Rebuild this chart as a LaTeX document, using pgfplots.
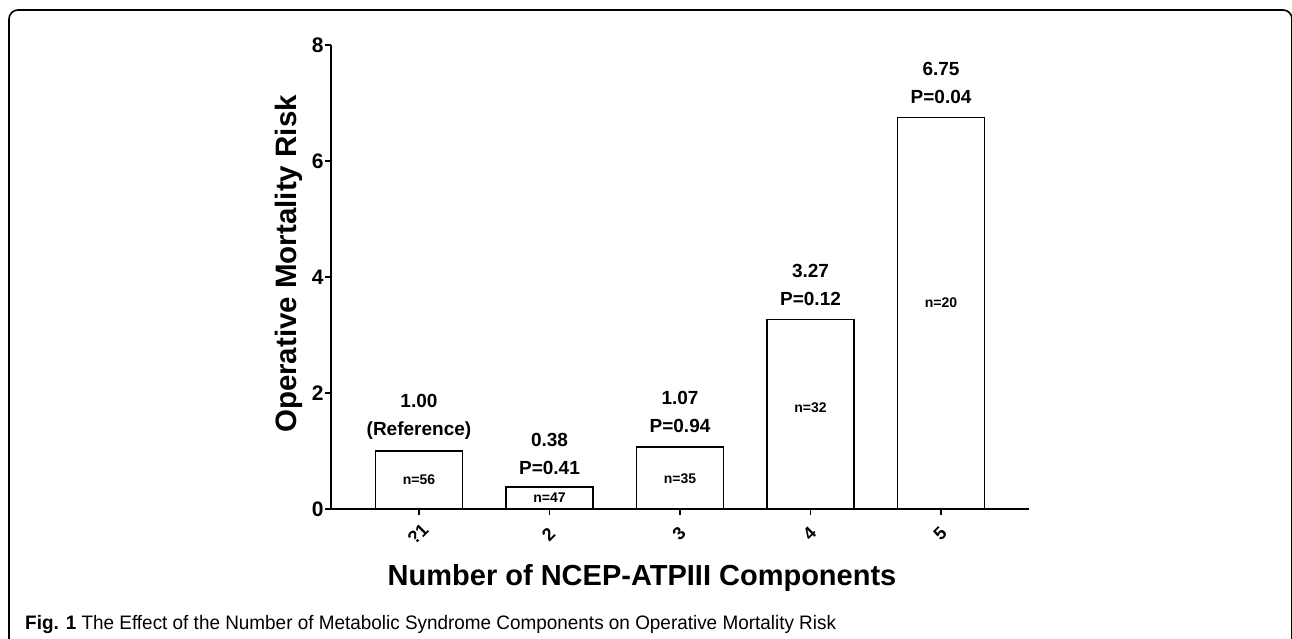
\documentclass[border=0pt]{standalone}
\usepackage{pgfplots}
\pgfplotsset{compat=1.18}
\usepackage{fontspec}
\setmainfont{Liberation Sans}
\newfontfamily\capfont[FakeStretch=0.97]{Liberation Sans}

\pgfplotstableread{
x  y
1  1.00
2  0.38
3  1.07
4  3.27
5  6.75
}\riskdata

\begin{document}
\begin{tikzpicture}[x=1pt,y=1pt]
\useasboundingbox (0,0) rectangle (1292,639);
% rounded frame round the figure
\draw[line width=1.6pt, rounded corners=9pt] (9,-6) -- (9,629) -- (1292,629) -- (1292,-6);

\begin{axis}[
    at={(331pt,130pt)}, anchor=south west,
    scale only axis, width=698pt, height=464pt,
    xmin=0.326, xmax=5.674, ymin=0, ymax=8,
    axis x line=bottom, axis y line=left,
    axis line style={-, line width=1.6pt},
    every tick/.style={black, line width=1.6pt},
    tick align=outside, major tick length=6pt,
    xtick={1,2,3,4,5}, xticklabels={?1,2,3,4,5},
    ytick={0,2,4,6,8},
    yticklabel style={font=\fontsize{21}{21}\selectfont\bfseries, xshift=2pt},
    % shifts are in the rotated frame
    xticklabel style={font=\fontsize{18}{18}\selectfont\bfseries, rotate=45, anchor=center, xshift=-14.2pt, yshift=-12.7pt},
    /pgf/number format/assume math mode=true,
    xlabel={Number of NCEP-ATPIII Components},
    ylabel={Operative Mortality Risk},
    xlabel style={font=\fontsize{29}{29}\selectfont\bfseries, at={(axis description cs:0.4456,-0.149)}, anchor=center},
    ylabel style={font=\fontsize{29.5}{29.5}\selectfont\bfseries, at={(axis description cs:-0.060,0.528)}, anchor=center, rotate=0},
    clip=false,
]
\addplot[ybar, bar width=87pt, draw=black, line width=1.6pt, fill=white] table[x=x, y=y] {\riskdata};

\begin{scope}[every node/.style={font=\fontsize{19}{19}\selectfont\bfseries}]
\node at (axis cs:1,1.00) [yshift=50pt] {1.00};
\node at (axis cs:1,1.00) [yshift=20pt] {(Reference)};
\node at (axis cs:2,0.38) [yshift=47pt] {0.38};
\node at (axis cs:2,0.38) [yshift=19pt] {P=0.41};
\node at (axis cs:3,1.07) [yshift=49pt] {1.07};
\node at (axis cs:3,1.07) [yshift=21pt] {P=0.94};
\node at (axis cs:4,3.27) [yshift=48pt] {3.27};
\node at (axis cs:4,3.27) [yshift=20pt] {P=0.12};
\node at (axis cs:5,6.75) [yshift=49pt] {6.75};
\node at (axis cs:5,6.75) [yshift=21pt] {P=0.04};
\end{scope}
\begin{scope}[every node/.style={font=\fontsize{14}{14}\selectfont\bfseries}]
\node at (axis cs:1,0.50) {n=56};
\node at (axis cs:2,0.19) {n=47};
\node at (axis cs:3,0.53) {n=35};
\node at (axis cs:4,1.74) {n=32};
\node at (axis cs:5,3.55) {n=20};
\end{scope}
\end{axis}

\node[anchor=base west, inner sep=0pt, font=\fontsize{19.5}{19.5}\selectfont] at (25,9) {\textbf{\capfont Fig. 1}\capfont\ The Effect of the Number of Metabolic Syndrome Components on Operative Mortality Risk};
\end{tikzpicture}
\end{document}
